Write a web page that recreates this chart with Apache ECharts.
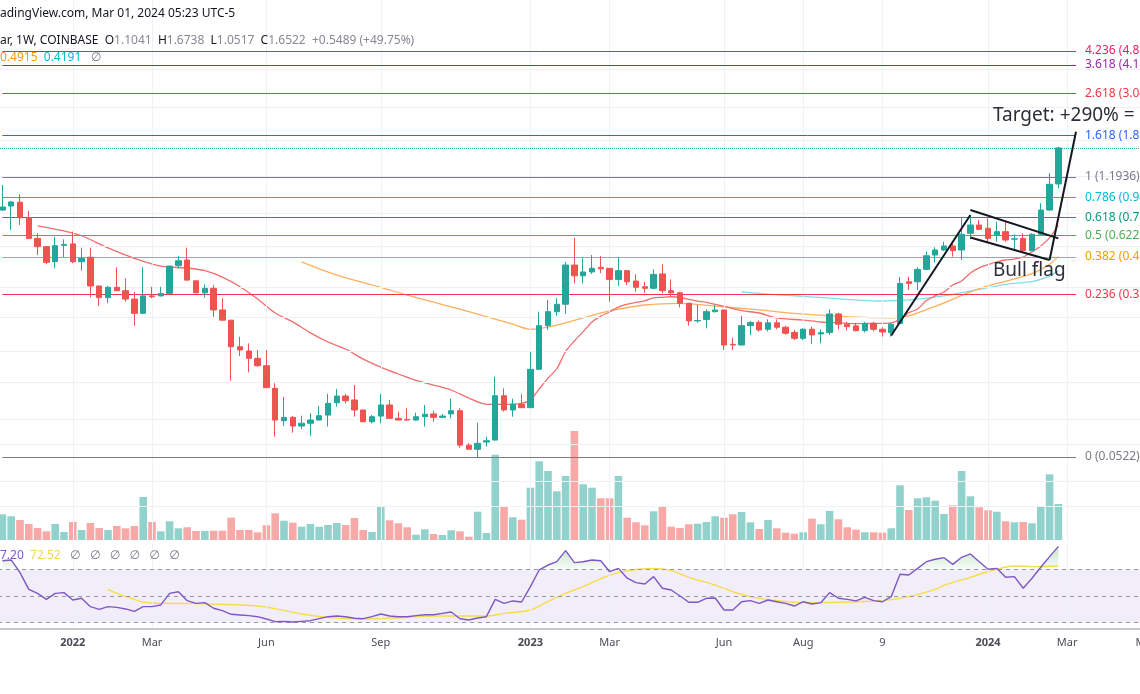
<!DOCTYPE html>
<html>
<head>
<meta charset="utf-8">
<script src="https://cdn.jsdelivr.net/npm/echarts@6/dist/echarts.min.js"></script>
<style>html,body{margin:0;padding:0;background:#fff}#c{width:1140px;height:694px}</style>
</head>
<body>
<div id="c"></div>
<script>
// ---------------- DATA ----------------
const firstWeek = '2021-11-08';
const weekCount = 132;
const categories = [];
(function(){const t0 = Date.parse(firstWeek + 'T00:00:00Z');
  for (let i = 0; i < weekCount; i++) categories.push(new Date(t0 + i * 7 * 86400000).toISOString().slice(0, 10));})();

const tickLabels = {
  '2022-01-03':'2022','2022-03-07':'Mar','2022-06-06':'Jun','2022-09-05':'Sep',
  '2023-01-02':'2023','2023-03-06':'Mar','2023-06-05':'Jun','2023-08-07':'Aug','2023-10-09':'9',
  '2024-01-01':'2024','2024-03-04':'Mar','2024-05-06':'May'
};
const yearTicks = ['2022','2023','2024'];

const open = [0.825,0.863,0.900,0.757,0.601,0.548,0.463,0.556,0.565,0.463,
0.487,0.353,0.310,0.348,0.335,0.305,0.260,0.316,0.316,0.325,
0.443,0.472,0.374,0.327,0.344,0.270,0.241,0.179,0.1707,0.1573,
0.1448,0.1125,0.0783,0.0813,0.0738,0.0761,0.0789,0.0834,0.0957,0.1032,
0.0987,0.0883,0.0774,0.0825,0.0934,0.0804,0.0795,0.0789,0.0819,0.0845,
0.0813,0.0845,0.0876,0.0596,0.0569,0.0617,0.0631,0.1035,0.0883,0.0941,
0.0906,0.1391,0.2266,0.2649,0.2878,0.446,0.3955,0.413,0.435,0.430,
0.380,0.419,0.373,0.350,0.344,0.404,0.335,0.327,0.291,0.239,
0.243,0.265,0.270,0.1839,0.1825,0.2266,0.235,0.2176,0.2338,0.2227,
0.210,0.1967,0.2177,0.2066,0.2097,0.2582,0.2305,0.2259,0.2143,0.2323,
0.2177,0.2097,0.2323,0.370,0.370,0.425,0.499,0.528,0.552,0.528,
0.636,0.698,0.673,0.624,0.648,0.596,0.601,0.524,0.629,0.825,
1.1041];
const high = [1.091,0.913,0.983,0.818,0.636,0.552,0.612,0.595,0.648,0.542,
0.542,0.353,0.353,0.435,0.384,0.331,0.435,0.350,0.350,0.443,
0.494,0.542,0.377,0.359,0.357,0.308,0.241,0.200,0.186,0.1726,
0.1726,0.1191,0.1024,0.0825,0.0828,0.0851,0.0923,0.1056,0.1116,0.1056,
0.1167,0.0885,0.0834,0.1056,0.0987,0.0866,0.0900,0.0857,0.0934,0.0876,
0.0845,0.1001,0.0900,0.0610,0.0765,0.0655,0.1281,0.1125,0.1001,0.1056,
0.1688,0.2649,0.302,0.308,0.463,0.6053,0.481,0.499,0.494,0.431,
0.484,0.422,0.402,0.370,0.425,0.450,0.380,0.331,0.293,0.2855,
0.272,0.2855,0.271,0.198,0.2528,0.239,0.240,0.243,0.243,0.2259,
0.216,0.220,0.2241,0.2177,0.272,0.262,0.2364,0.2338,0.2364,0.2364,
0.2227,0.2338,0.391,0.391,0.435,0.518,0.544,0.579,0.569,0.752,
0.780,0.738,0.752,0.724,0.724,0.629,0.636,0.636,0.890,1.245,
1.6738];
const low = [0.816,0.660,0.698,0.595,0.499,0.450,0.430,0.487,0.455,0.419,
0.311,0.282,0.291,0.333,0.296,0.226,0.258,0.308,0.314,0.323,
0.430,0.375,0.326,0.310,0.250,0.240,0.1226,0.1615,0.1345,0.1432,
0.1130,0.0655,0.0738,0.0685,0.0712,0.0662,0.0785,0.0733,0.0916,0.0951,
0.0819,0.0772,0.0761,0.0761,0.0802,0.0787,0.0783,0.0783,0.0733,0.0774,
0.0808,0.0804,0.0580,0.0567,0.0522,0.0586,0.0628,0.0868,0.0819,0.0904,
0.0904,0.1389,0.216,0.2528,0.2582,0.3634,0.3634,0.4036,0.4075,0.296,
0.354,0.357,0.331,0.327,0.340,0.325,0.313,0.278,0.2266,0.2338,
0.220,0.262,0.1726,0.1726,0.1820,0.2043,0.212,0.2124,0.2177,0.2043,
0.193,0.193,0.1846,0.1860,0.2043,0.2177,0.2143,0.2124,0.210,0.2124,
0.2003,0.2003,0.2320,0.3375,0.3375,0.422,0.458,0.522,0.490,0.472,
0.595,0.660,0.572,0.579,0.579,0.528,0.518,0.522,0.624,0.818,
1.0517];
const close = [0.853,0.903,0.757,0.601,0.548,0.460,0.554,0.562,0.463,0.481,
0.353,0.310,0.348,0.335,0.305,0.260,0.316,0.313,0.325,0.441,
0.468,0.377,0.327,0.344,0.270,0.241,0.179,0.1726,0.1573,0.1448,
0.1133,0.0789,0.0813,0.0738,0.0761,0.0789,0.0828,0.0951,0.1032,0.0979,
0.0883,0.0774,0.0819,0.0934,0.0804,0.0789,0.0789,0.0819,0.0842,0.0813,
0.0825,0.0876,0.0596,0.0569,0.0608,0.0626,0.1035,0.0883,0.0941,0.0906,
0.1391,0.2266,0.2649,0.2878,0.4463,0.3955,0.4127,0.430,0.428,0.380,
0.419,0.370,0.348,0.344,0.402,0.335,0.327,0.291,0.239,0.240,
0.265,0.270,0.1825,0.1825,0.2266,0.235,0.216,0.2338,0.2227,0.2082,
0.1967,0.2177,0.2043,0.2097,0.2582,0.2305,0.2241,0.2143,0.2323,0.2177,
0.2111,0.2305,0.3634,0.3634,0.425,0.495,0.528,0.552,0.524,0.629,
0.698,0.665,0.601,0.648,0.590,0.598,0.524,0.629,0.825,1.100,
1.6522];
// weekly volume (millions)
const volume = [25.7,23.7,20,16,12,8.7,16,8,18,10,
17,12,10,14,11.7,14,43,18,8.7,18.7,
11.7,12.7,9,9,9.3,9.3,22.3,10,10,7.7,
14.7,26.7,19.3,17.3,13.3,16,13.3,15,17,15,
22,10,8,34,19.7,16.7,12.7,5.3,10.7,6,
5,9.7,8.7,3.3,28.3,7,85.3,33,22.7,20.3,
52.3,78.7,69,48.7,64,109,55.7,52.3,41.7,41.7,
64,22.3,17.7,14.7,28.7,34,13.3,12,15.7,16.3,
18,23.7,22.3,25.7,28,17.7,11,20,11.7,7.3,
6.3,7.7,21.3,15.7,29,20.7,12.7,10.3,7.7,7.7,
7.3,11.7,54.7,30,41.7,42.7,39.3,26,34.7,69,
43.7,32.7,29.7,28.3,18.7,17.7,18,16.7,33,65.7,
36];
// moving averages [week index, value]
const maFast = [[4,0.692],[7,0.653],[9,0.619],[12,0.540],[15,0.481],[18,0.441],[21,0.431],[23,0.419],[25,0.390],[27,0.350],[29,0.305],[31,0.261],[33,0.2364],[35,0.209],[37,0.1887],[39,0.1745],[41,0.156],[43,0.1427],[45,0.132],[47,0.1228],[49,0.1167],[51,0.1104],[53,0.1009],[55,0.0941],[57,0.0939],[59,0.0951],[60,0.099],[61,0.1116],[62,0.126],[63,0.140],[64,0.1697],[65,0.191],[66,0.212],[67,0.236],[68,0.252],[69,0.264],[70,0.279],[71,0.288],[72,0.294],[73,0.299],[74,0.309],[75,0.311],[76,0.313],[77,0.311],[78,0.304],[79,0.298],[80,0.294],[82,0.281],[84,0.268],[86,0.261],[88,0.247],[91,0.241],[93,0.236],[95,0.2338],[97,0.232],[99,0.2323],[101,0.2338],[102,0.243],[103,0.262],[104,0.273],[105,0.300],[106,0.316],[107,0.330],[108,0.357],[109,0.373],[110,0.408],[111,0.432],[112,0.448],[113,0.462],[114,0.472],[115,0.477],[116,0.488],[117,0.517],[118,0.552],[119,0.606],[120,0.698]];
const maMid = [[34,0.462],[38,0.3987],[43,0.348],[46,0.3187],[50,0.287],[54,0.258],[58,0.2305],[60,0.2177],[61,0.219],[63,0.228],[66,0.247],[69,0.267],[73,0.2855],[77,0.291],[81,0.282],[86,0.270],[90,0.260],[94,0.253],[98,0.2484],[101,0.2475],[103,0.253],[105,0.271],[107,0.292],[109,0.318],[111,0.343],[113,0.363],[115,0.382],[117,0.405],[118,0.425],[119,0.450],[120,0.4915]];
const maSlow = [[84,0.330],[87,0.3226],[94,0.308],[100,0.2985],[103,0.302],[107,0.316],[111,0.340],[114,0.3596],[117,0.371],[118,0.380],[119,0.394],[120,0.4191]];
// RSI and its moving average
const rsi = [76.4,77,67.5,55,52,47.5,52,52.5,47,48.3,
42,40,42,41.5,40.3,38.5,42,42,43.3,52,
53.2,46.5,44.5,45,40.8,39,36.3,35.8,35.3,34.5,
32.8,30.8,31,30.5,31,31.5,33,34.5,35,34.5,
33.3,33,34.5,36.5,35,34.5,34.5,35.3,36,36,
37,38,33,32,33.5,34.5,47.5,44.5,46.3,45.5,
57,69.5,73.2,75.7,84,75,75.7,77,76.4,68.2,
70.7,63.3,60,59,64.5,55.8,54.5,50,45.3,45.3,
48.3,48.5,39.5,39.5,45.7,46.5,44.5,47,45.7,44.5,
42.5,45.7,44,45,52.5,48.3,47.5,46.3,49,46.5,
45.7,49.5,66.3,65.7,70.7,75.7,77.5,78.7,73.7,79,
81.5,75.7,70,70.7,64,64.5,55.8,63.3,71.5,79.5,
87.2];
const rsiMa = [[12,55],[13,52],[15,47.5],[16,45.3],[18,44.5],[22,44.3],[27,43.3],[29,42.5],[31,40.5],[34,36.5],[37,34],[41,32.8],[45,33.7],[49,35],[55,35],[57,37],[60,39.5],[62,46],[64,52],[66,57],[68,63],[70,67.5],[72,69.8],[74,70.7],[76,69],[78,64],[81,58.2],[83,53.2],[85,49.5],[87,47.3],[91,45],[93,45],[97,45.7],[100,46.5],[103,49.5],[106,55],[107,58],[110,64],[112,68.2],[115,72.5],[117,72],[120,72.52]];
// Fibonacci retracement / extension
const fibLevels = ['0','0.236','0.382','0.5','0.618','0.786','1','1.618','2.618','3.618','4.236'];
const fibPrices = [0.0522,0.3216,0.4882,0.6229,0.7576,0.9493,1.1936,1.8990,3.0404,4.1818,4.8872];
const fibColors = ['#787b86','#f23645','#ff9800','#4caf50','#089981','#00bcd4','#787b86','#2962ff','#f23645','#9c27b0','#e91e63'];
// price grid lines
const gridPrices = [0.027,0.04,0.055,0.08,0.12,0.17,0.25,0.35,0.55,0.8,1.2,1.8,2.6,4];
// bull-flag drawing [week index, price]
const flagPole = [[101,0.203],[110,0.78]];
const flagTop = [[110,0.825],[120,0.601]];
const flagBottom = [[110,0.607],[119,0.472]];
const breakout = [[119,0.472],[122,1.98]];
const lastPrice = 1.6522;

// ---------------- CHART ----------------
const FONT = "'Noto Sans', 'DejaVu Sans', sans-serif";
const UP = '#26a69a', DOWN = '#ef5350';
const BAND = 8.8, GL = -2, GW = BAND * weekCount;
const chart = echarts.init(document.getElementById('c'));

const candleData = open.map((o, i) => [o, close[i], low[i], high[i]]);
const volData = volume.map((v, i) => ({value: v, itemStyle: {color: close[i] >= open[i] ? '#92d2cc' : '#f7a9a7'}}));
const tickCats = categories.filter(c => tickLabels[c]);
const obBase = rsi.map(() => 70);
const obFill = rsi.map(v => Math.max(v - 70, 0));

function xAx(i) {
  return {
    type: 'category', gridIndex: i, data: categories, boundaryGap: true,
    axisLine: {show: i === 2, lineStyle: {color: '#b2b5be', width: 1.5}},
    axisTick: {show: false}, splitLine: {show: false},
    axisLabel: i === 2 ? {
      show: true, interval: (idx, val) => !!tickLabels[val], margin: 9, hideOverlap: false,
      formatter: v => { const t = tickLabels[v]; return yearTicks.includes(t) ? '{b|' + t + '}' : t; },
      color: '#4a4d57', fontSize: 11, fontFamily: FONT,
      rich: {b: {fontWeight: 'bold', fontSize: 11, color: '#4a4d57', fontFamily: FONT}}
    } : {show: false}
  };
}

const fibMarks = fibPrices.map((p, i) => [
  {coord: [categories[0], p], lineStyle: {color: fibColors[i], width: 1, type: 'solid'},
   label: {show: true, position: 'end', distance: 9, formatter: fibLevels[i] + ' (' + p.toFixed(4) + ')', color: fibColors[i], fontSize: 12, fontFamily: FONT}},
  {coord: [categories[122], p]}
]);

function drawLine(name, pts) {
  return {name, type: 'line', xAxisIndex: 0, yAxisIndex: 0, data: pts, symbol: 'none', z: 8,
    lineStyle: {color: '#131722', width: 2}, silent: true};
}

const gridBase = {left: GL, width: GW, outerBoundsMode: 'none', containLabel: false};
const option = {
  animation: false,
  backgroundColor: '#ffffff',
  grid: [
    Object.assign({top: 0, height: 540}, gridBase),
    Object.assign({top: 430, height: 110}, gridBase),
    Object.assign({top: 543, height: 85.3}, gridBase)
  ],
  xAxis: [xAx(0), xAx(1), xAx(2)],
  yAxis: [
    {type: 'log', gridIndex: 0, min: 0.020645, max: 8.630, show: false, splitLine: {show: false}},
    {type: 'value', gridIndex: 1, min: 0, max: 110, show: false, splitLine: {show: false}},
    {type: 'value', gridIndex: 2, min: 25.8, max: 89.7, show: false, splitLine: {show: false}}
  ],
  series: [
    {name: 'gridMain', type: 'line', xAxisIndex: 0, yAxisIndex: 0, data: [], z: 0, silent: true,
      markLine: {silent: true, symbol: 'none', label: {show: false}, lineStyle: {color: '#eef1f6', width: 1, type: 'solid'},
        data: gridPrices.map(p => ({yAxis: p})).concat(tickCats.map(c => ({xAxis: c})))}},
    {name: 'gridRsi', type: 'line', xAxisIndex: 2, yAxisIndex: 2, data: [], z: 0, silent: true,
      markLine: {silent: true, symbol: 'none', label: {show: false}, lineStyle: {color: '#eef1f6', width: 1, type: 'solid'},
        data: tickCats.map(c => ({xAxis: c}))},
      markArea: {silent: true, itemStyle: {color: 'rgba(126,87,194,0.10)'}, data: [[{yAxis: 70}, {yAxis: 30}]]}},
    {name: 'rsiLevels', type: 'line', xAxisIndex: 2, yAxisIndex: 2, data: [], z: 2, silent: true,
      markLine: {silent: true, symbol: 'none', label: {show: false}, lineStyle: {color: '#9598a1', width: 1, type: [4, 4]},
        data: [{yAxis: 70}, {yAxis: 50}, {yAxis: 30}]}},
    {name: 'volume', type: 'bar', xAxisIndex: 1, yAxisIndex: 1, data: volData, barWidth: 7.6, z: 1, silent: true},
    {name: 'fib', type: 'line', xAxisIndex: 0, yAxisIndex: 0, data: [], z: 2, silent: true,
      markLine: {silent: true, symbol: 'none', data: fibMarks}},
    {name: 'lastPrice', type: 'line', xAxisIndex: 0, yAxisIndex: 0, data: [], z: 2, silent: true,
      markLine: {silent: true, symbol: 'none', label: {show: false}, lineStyle: {color: UP, width: 1, type: 'dotted'}, data: [{yAxis: lastPrice}]}},
    {name: 'maSlow', type: 'line', xAxisIndex: 0, yAxisIndex: 0, data: maSlow, symbol: 'none', smooth: 0.3, z: 3,
      lineStyle: {color: '#80deea', width: 1.3}},
    {name: 'maMid', type: 'line', xAxisIndex: 0, yAxisIndex: 0, data: maMid, symbol: 'none', smooth: 0.3, z: 3,
      lineStyle: {color: '#ffb05c', width: 1.3}},
    {name: 'maFast', type: 'line', xAxisIndex: 0, yAxisIndex: 0, data: maFast, symbol: 'none', smooth: 0.3, z: 3,
      lineStyle: {color: '#f26d6d', width: 1.3}},
    {name: 'price', type: 'candlestick', xAxisIndex: 0, yAxisIndex: 0, data: candleData, barWidth: 6, z: 5,
      itemStyle: {color: UP, color0: DOWN, borderColor: UP, borderColor0: DOWN, borderWidth: 1}},
    drawLine('flagPole', flagPole), drawLine('flagTop', flagTop), drawLine('flagBottom', flagBottom), drawLine('breakout', breakout),
    {name: 'obBase', type: 'line', xAxisIndex: 2, yAxisIndex: 2, data: obBase, stack: 'ob', symbol: 'none', z: 3, silent: true,
      lineStyle: {opacity: 0}},
    {name: 'obFill', type: 'line', xAxisIndex: 2, yAxisIndex: 2, data: obFill, stack: 'ob', symbol: 'none', z: 3, silent: true,
      lineStyle: {opacity: 0},
      areaStyle: {color: new echarts.graphic.LinearGradient(0, 0, 0, 1, [{offset: 0, color: 'rgba(76,175,80,0.45)'}, {offset: 1, color: 'rgba(76,175,80,0.06)'}])}},
    {name: 'rsiMa', type: 'line', xAxisIndex: 2, yAxisIndex: 2, data: rsiMa, symbol: 'none', smooth: 0.3, z: 4,
      lineStyle: {color: '#f7dc4a', width: 1.4}},
    {name: 'rsi', type: 'line', xAxisIndex: 2, yAxisIndex: 2, data: rsi, symbol: 'none', z: 5,
      lineStyle: {color: '#7e57c2', width: 1.4}}
  ],
  graphic: [
    {type: 'text', left: 0, top: 8, z: 50, style: {text: 'adingView.com, Mar 01, 2024 05:23 UTC-5', fontSize: 12, fontFamily: FONT, fill: '#131722'}},
    {type: 'text', left: 0, top: 35, z: 50, style: {
      text: '{d|ar, 1W, COINBASE}  {d|O}{v|1.1041}  {d|H}{v|1.6738}  {d|L}{v|1.0517}  {d|C}{v|1.6522}  {v|+0.5489 (+49.75%)}',
      fontSize: 12, fontFamily: FONT,
      rich: {d: {fill: '#131722', fontSize: 12, fontFamily: FONT}, v: {fill: '#868993', fontSize: 12, fontFamily: FONT}}}},
    {type: 'text', left: 0, top: 52, z: 50, style: {
      text: '{o|0.4915}  {c|0.4191}   {g|\u2205}', fontSize: 12, fontFamily: FONT,
      rich: {o: {fill: '#ff9800', fontSize: 12, fontFamily: FONT}, c: {fill: '#00bcd4', fontSize: 12, fontFamily: FONT}, g: {fill: '#787b86', fontSize: 12, fontFamily: FONT}}}},
    {type: 'text', left: 0, top: 550, z: 50, style: {
      text: '{p|7.20}  {y|72.52}   {g|\u2205}   {g|\u2205}   {g|\u2205}   {g|\u2205}   {g|\u2205}   {g|\u2205}', fontSize: 12, fontFamily: FONT,
      rich: {p: {fill: '#7e57c2', fontSize: 12, fontFamily: FONT}, y: {fill: '#f2d54b', fontSize: 12, fontFamily: FONT}, g: {fill: '#787b86', fontSize: 12, fontFamily: FONT}}}},
    {type: 'text', left: 993, top: 106, z: 50, style: {text: 'Target: +290% =', fontSize: 19, fontFamily: FONT, fill: '#2a2e39'}},
    {type: 'text', left: 993, top: 261, z: 50, style: {text: 'Bull flag', fontSize: 19, fontFamily: FONT, fill: '#2a2e39'}}
  ]
};
chart.setOption(option);
</script>
</body>
</html>
